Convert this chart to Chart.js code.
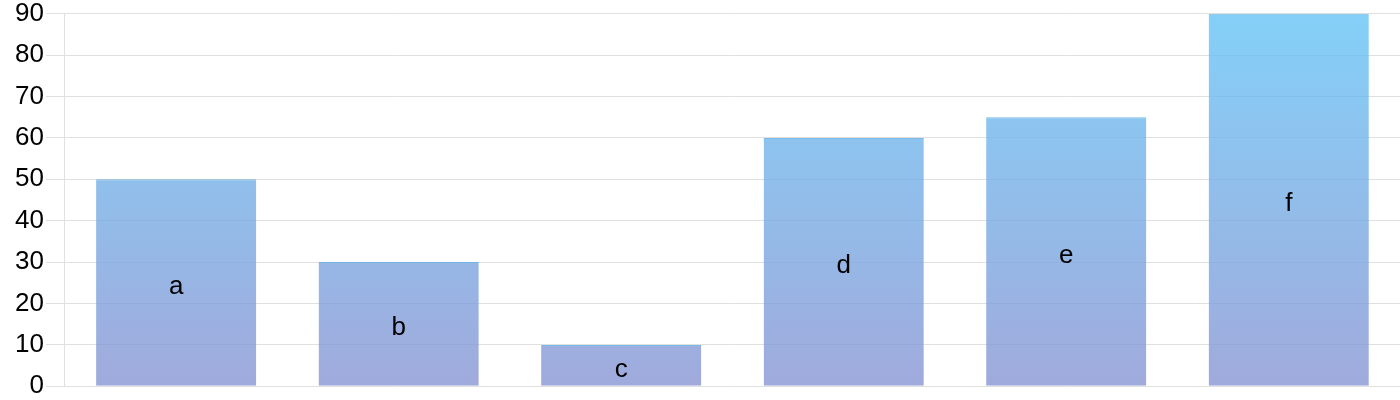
<!DOCTYPE html>
<html>
<head>
<meta charset="utf-8">
<script src="https://cdn.jsdelivr.net/npm/chart.js@4/dist/chart.umd.min.js"></script>
<style>
  html, body { margin: 0; padding: 0; background: #fff; }
  #wrap { width: 1400px; height: 400px; }
</style>
</head>
<body>
<div id="wrap"><canvas id="myChart"></canvas></div>
<script>
var categories = ['a', 'b', 'c', 'd', 'e', 'f'];
var values = [50, 30, 10, 60, 65, 90];
var yTicks = [0, 10, 20, 30, 40, 50, 60, 70, 80, 90];

// draws the category letter in the middle of each bar
var barLabels = {
    id: 'barLabels',
    afterDatasetsDraw: function (chart) {
        var ctx = chart.ctx;
        var meta = chart.getDatasetMeta(0);
        ctx.save();
        ctx.font = '26px "Liberation Sans", Arial, sans-serif';
        ctx.fillStyle = '#000';
        ctx.textAlign = 'center';
        ctx.textBaseline = 'middle';
        meta.data.forEach(function (bar, i) {
            var p = bar.getCenterPoint();
            ctx.fillText(categories[i], p.x, p.y + 4);
        });
        ctx.restore();
    }
};

function barGradient(context) {
    var area = context.chart.chartArea;
    if (!area) return 'rgba(120,180,230,0.8)';
    var g = context.chart.ctx.createLinearGradient(0, area.bottom, 0, area.top);
    g.addColorStop(0, 'rgba(136,149,211,0.8)');
    g.addColorStop(1, 'rgba(101,196,246,0.8)');
    return g;
}

var ctx = document.getElementById('myChart').getContext('2d');
var chart = new Chart(ctx, {
    type: 'bar',
    data: {
        labels: categories,
        datasets: [{
            data: values,
            backgroundColor: barGradient,
            borderColor: 'rgba(90,170,225,0.8)',
            borderWidth: { top: 1, left: 0, right: 0, bottom: 0 },
            borderSkipped: false
        }]
    },
    options: {
        responsive: true,
        maintainAspectRatio: false,
        animation: false,
        layout: { padding: { left: 13, top: 1 } },
        plugins: {
            legend: { display: false },
            tooltip: { enabled: false }
        },
        scales: {
            x: { display: false },
            y: {
                min: 0,
                max: 90,
                afterBuildTicks: function (axis) {
                    axis.ticks = yTicks.map(function (v) { return { value: v }; });
                },
                ticks: {
                    color: '#000',
                    padding: 2,
                    font: { family: '"Liberation Sans", Arial, sans-serif', size: 26, lineHeight: 0.9 }
                },
                grid: { color: '#e0e0e0', lineWidth: 1, tickLength: 19 },
                border: { color: '#e0e0e0' }
            }
        }
    },
    plugins: [barLabels]
});
</script>
</body>
</html>
